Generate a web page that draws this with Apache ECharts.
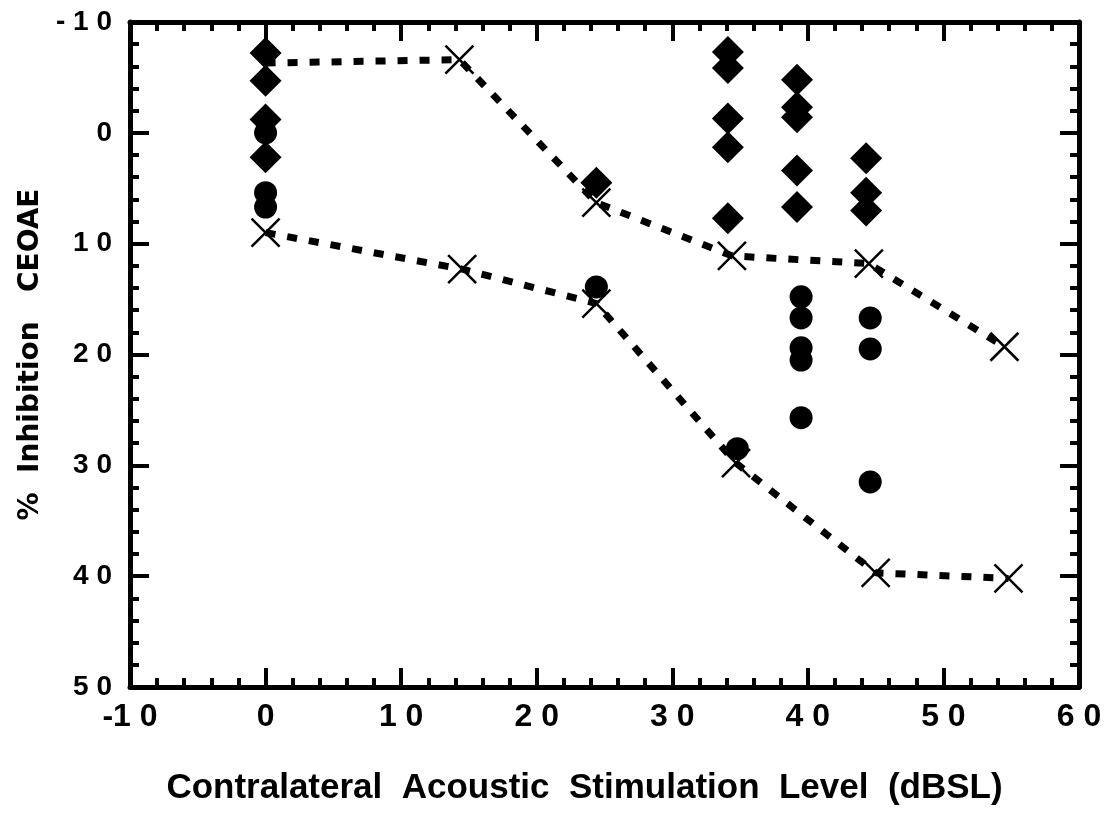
<!DOCTYPE html>
<html>
<head>
<meta charset="utf-8">
<title>Inhibition CEOAE</title>
<script src="https://cdn.jsdelivr.net/npm/echarts@6/dist/echarts.min.js"></script>
<style>
  html, body { margin: 0; padding: 0; background: #fff; }
  #chart { width: 1119px; height: 830px; }
</style>
</head>
<body>
<div id="chart"></div>
<script>
// axis ticks
const xTicks = [-10, 0, 10, 20, 30, 40, 50, 60]
const yTicks = [-10, 0, 10, 20, 30, 40, 50]

// diamonds
const diamondX = [0, 0, 0, 0, 24.4, 34.1, 34.1, 34.1, 34.1, 34.1, 39.2, 39.2, 39.2, 39.2, 39.2, 44.3, 44.3, 44.3]
const diamondY = [-7.2, -4.7, -1.2, 2.2, 4.5, -7.3, -5.85, -1.3, 1.3, 7.7, -4.8, -2.3, -1.4, 3.4, 6.7, 2.3, 5.4, 7.0]

// circles
const circleX = [0, 0, 0, 24.4, 34.8, 39.5, 39.5, 39.5, 39.5, 39.5, 44.6, 44.6, 44.6]
const circleY = [0, 5.4, 6.7, 13.9, 28.5, 14.8, 16.7, 19.4, 20.5, 25.7, 16.7, 19.5, 31.5]

// dotted lines with crosses
const upperX = [0, 14.3, 24.4, 34.4, 44.5, 54.5]
const upperY = [-6.3, -6.6, 6.3, 11.1, 11.8, 19.3]
const lowerX = [0, 14.5, 24.4, 34.7, 45, 54.8]
const lowerY = [9.0, 12.3, 15.4, 29.8, 39.7, 40.2]

const zip = (xs, ys) => xs.map((x, i) => [x, ys[i]])
const spaced = v => String(v).replace(/(\d)(?=\d)/g, '$1 ')
const cross = 'path://M0,0L10,10M10,0L0,10'

const axisLine = { onZero: false, lineStyle: { color: '#000', width: 5 } }
const major = { inside: true, length: 19, lineStyle: { color: '#000', width: 4 } }
const minor = { show: true, splitNumber: 5, length: 9, lineStyle: { color: '#000', width: 4 } }

const myChart = echarts.init(document.getElementById('chart'))
const options = {
  animation: false,
  backgroundColor: '#fff',
  grid: { left: 130, right: 40, top: 22, bottom: 143 },
  xAxis: [
    {
      type: 'value',
      min: xTicks[0],
      max: xTicks[xTicks.length - 1],
      interval: 10,
      position: 'bottom',
      name: 'Contralateral  Acoustic  Stimulation  Level  (dBSL)',
      nameLocation: 'middle',
      nameGap: 84,
      nameTextStyle: { fontFamily: 'Liberation Sans', fontWeight: 'bold', fontSize: 35, color: '#000', padding: [0, 40, 0, 0] },
      axisLine: axisLine,
      axisTick: major,
      minorTick: minor,
      splitLine: { show: false },
      axisLabel: {
        margin: 14,
        color: '#000',
        fontFamily: 'Liberation Sans',
        fontWeight: 'bold',
        fontSize: 32,
        formatter: v => spaced(v)
      }
    },
    {
      type: 'value',
      min: xTicks[0],
      max: xTicks[xTicks.length - 1],
      interval: 10,
      position: 'top',
      axisLine: axisLine,
      axisTick: major,
      minorTick: minor,
      splitLine: { show: false },
      axisLabel: { show: false }
    }
  ],
  yAxis: [
    {
      type: 'value',
      inverse: true,
      min: yTicks[0],
      max: yTicks[yTicks.length - 1],
      interval: 10,
      position: 'left',
      name: '%  Inhibition   CEOAE',
      nameLocation: 'middle',
      nameGap: 70,
      nameTextStyle: { fontFamily: 'DejaVu Sans', fontWeight: 'bold', fontSize: 28, color: '#000' },
      axisLine: axisLine,
      axisTick: major,
      minorTick: minor,
      splitLine: { show: false },
      axisLabel: {
        margin: 18,
        color: '#000',
        fontFamily: 'Liberation Sans',
        fontWeight: 'bold',
        fontSize: 28,
        formatter: v => v < 0 ? '- ' + spaced(-v) : spaced(v)
      }
    },
    {
      type: 'value',
      inverse: true,
      min: yTicks[0],
      max: yTicks[yTicks.length - 1],
      interval: 10,
      position: 'right',
      axisLine: axisLine,
      axisTick: major,
      minorTick: minor,
      splitLine: { show: false },
      axisLabel: { show: false }
    }
  ],
  series: [
    {
      name: 'upper',
      type: 'line',
      data: zip(upperX, upperY).map((p, i) => i === 0 ? { value: p, symbol: 'none' } : p),
      symbol: cross,
      symbolSize: 28,
      itemStyle: { color: '#000', borderColor: '#000', borderWidth: 2.5 },
      lineStyle: { color: '#000', width: 7, type: [10, 12] },
      z: 3
    },
    {
      name: 'lower',
      type: 'line',
      data: zip(lowerX, lowerY),
      symbol: cross,
      symbolSize: 28,
      itemStyle: { color: '#000', borderColor: '#000', borderWidth: 2.5 },
      lineStyle: { color: '#000', width: 7, type: [10, 12] },
      z: 3
    },
    {
      name: 'diamond',
      type: 'scatter',
      data: zip(diamondX, diamondY),
      symbol: 'diamond',
      symbolSize: 32,
      itemStyle: { color: '#000', opacity: 1 },
      z: 4
    },
    {
      name: 'circle',
      type: 'scatter',
      data: zip(circleX, circleY),
      symbol: 'circle',
      symbolSize: 23,
      itemStyle: { color: '#000', opacity: 1 },
      z: 4
    }
  ]
}
myChart.setOption(options)
</script>
</body>
</html>
